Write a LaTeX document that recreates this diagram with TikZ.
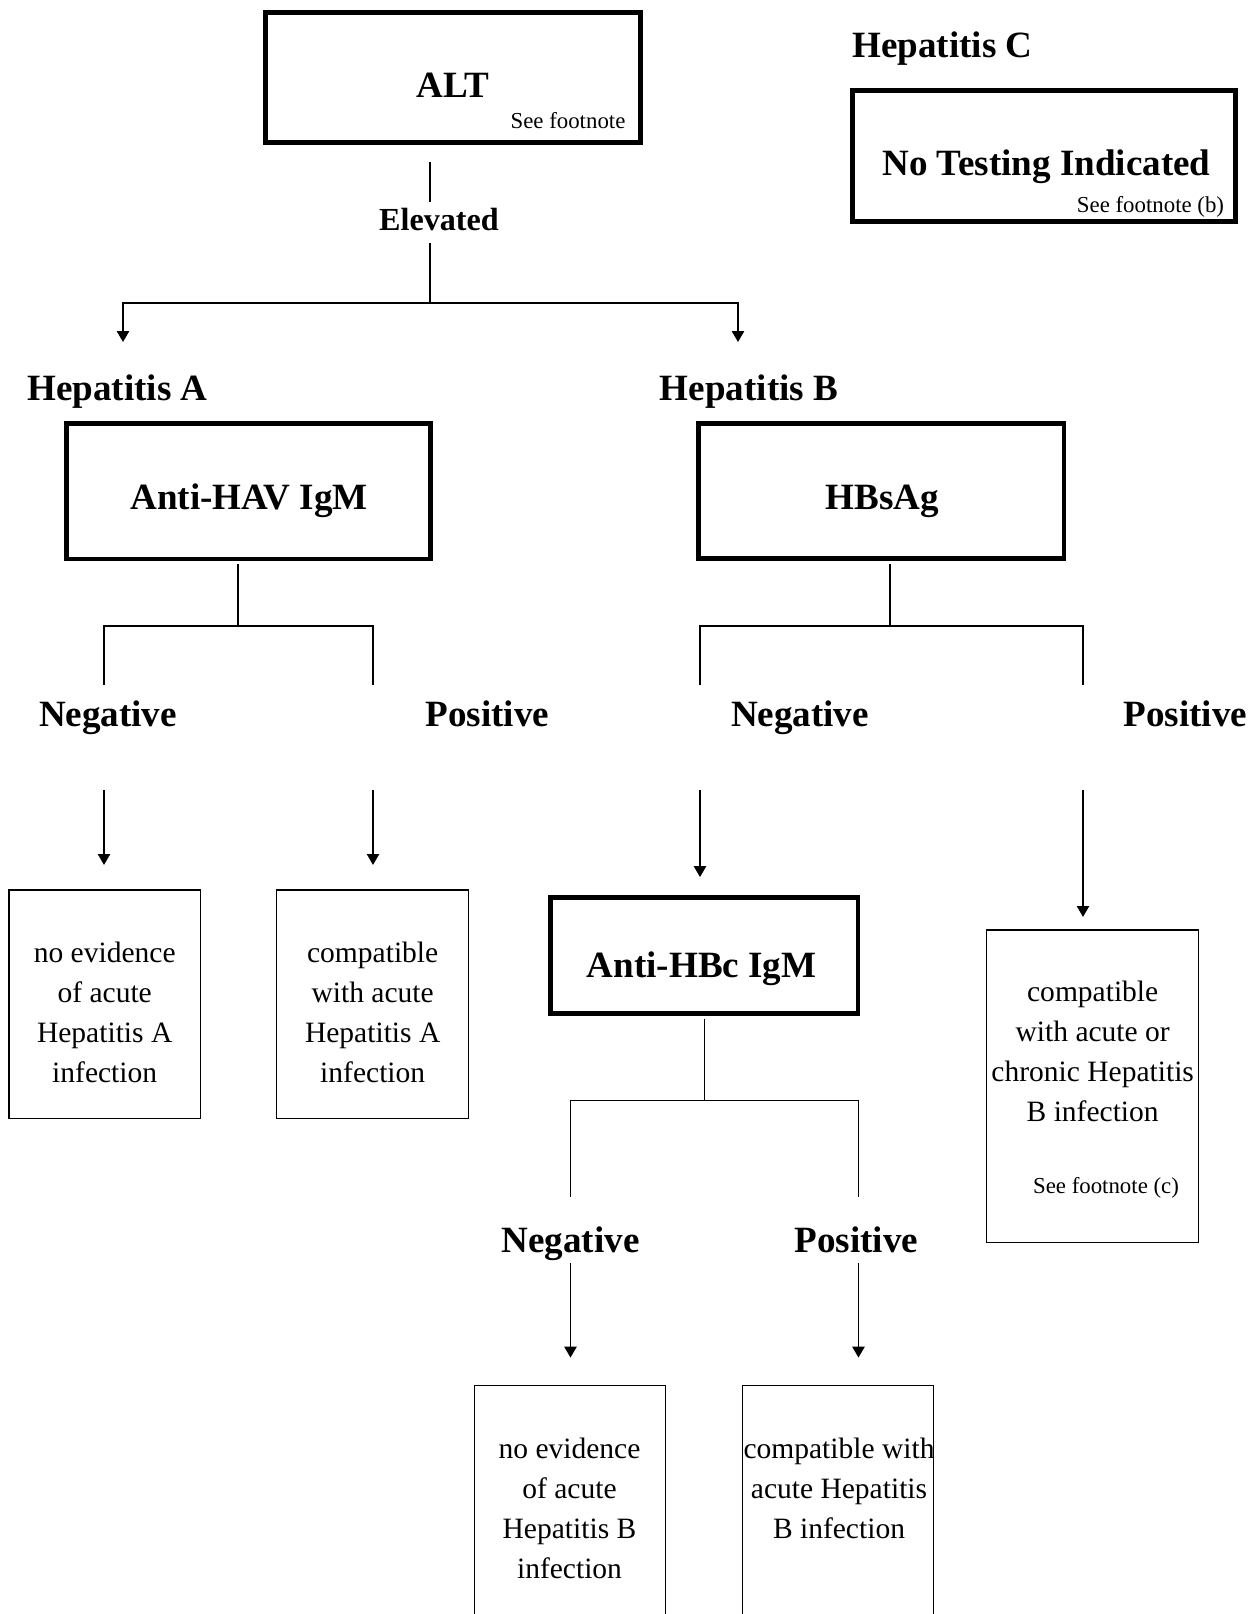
\documentclass[tikz,border=0pt]{standalone}
\usepackage{fontspec}
\setmainfont{Liberation Serif}
\usetikzlibrary{arrows.meta}

\begin{document}
\begin{tikzpicture}[x=0.02cm, y=-0.02cm,
    testbox/.style={draw, line width=2.8pt, inner sep=0pt},
    resbox/.style={draw, line width=0.75pt, inner sep=0pt, minimum width=3.83cm},
    heading/.style={inner sep=0pt, anchor=base, font=\fontsize{21.1}{25}\selectfont\bfseries},
    result/.style={heading, text height=14.8pt, text depth=5.3pt},
    elevlbl/.style={inner sep=0pt, anchor=base, text height=12.8pt, text depth=4.6pt, font=\fontsize{18.3}{22}\selectfont\bfseries},
    restext/.style={inner sep=0pt, anchor=north, align=center, font=\fontsize{16.8}{22.7}\selectfont},
    note/.style={inner sep=0pt, anchor=base, font=\fontsize{13}{15}\selectfont},
    link/.style={line width=0.75pt},
    tip/.style={line width=0.75pt, -{Triangle[length=6.2pt, width=7pt]}}]
  \useasboundingbox (0,0) rectangle (1256,1614);
  \clip (0,0) rectangle (1256,1614);

  \node[testbox, minimum width=7.5cm, minimum height=2.6cm] (alt) at (453,77.5) {};
  \node[heading] (alttxt) at (453,97) {ALT};
  \node[note] (altnote) at (568,128) {See footnote};
  \node[elevlbl] (elev) at (439,230) {Elevated};

  \node[heading] (hepc) at (942.5,57) {Hepatitis C};
  \node[testbox, minimum width=7.66cm, minimum height=2.62cm] (nti) at (1044,156) {};
  \node[heading] (ntitxt) at (1046.5,175) {No Testing Indicated};
  \node[note] (ntinote) at (1150.5,212) {See footnote (b)};

  \node[heading] (hepa) at (117.5,400.7) {Hepatitis A};
  \node[heading] (hepb) at (749,400.7) {Hepatitis B};
  \node[testbox, minimum width=7.28cm, minimum height=2.71cm] (hav) at (248.5,491.25) {};
  \node[heading] (havtxt) at (249,509) {Anti-HAV IgM};
  \node[testbox, minimum width=7.31cm, minimum height=2.7cm] (hbs) at (881.25,491) {};
  \node[heading] (hbstxt) at (882.5,509) {HBsAg};

  \node[result] (havneglbl) at (108,726.5) {Negative};
  \node[result] (havposlbl) at (487.5,726.5) {Positive};
  \node[result] (hbsneglbl) at (800,726.5) {Negative};
  \node[result] (hbsposlbl) at (1185.5,726.5) {Positive};

  \node[resbox, minimum height=4.57cm] (havneg) at (104.65,1004.3) {};
  \node[restext] (havnegtxt) at (104.7,934.7) {\strut no evidence\\of acute\\Hepatitis A\\infection};
  \node[resbox, minimum height=4.57cm] (havpos) at (372.5,1004.3) {};
  \node[restext] (havpostxt) at (372.7,934.7) {\strut compatible\\with acute\\Hepatitis A\\infection};

  \node[testbox, minimum width=6.15cm, minimum height=2.32cm] (hbc) at (704.25,955.5) {};
  \node[heading] (hbctxt) at (701.7,977) {Anti-HBc IgM};

  \node[resbox, minimum width=4.23cm, minimum height=6.25cm] (hbvpos) at (1092.5,1086.3) {};
  \node[restext] (hbvpostxt) at (1092.7,973.7) {\strut compatible\\with acute or\\chronic Hepatitis\\B infection};
  \node[note] (hbvnote) at (1106,1193) {See footnote (c)};

  \node[result] (hbcneglbl) at (570.5,1252.7) {Negative};
  \node[result] (hbcposlbl) at (856.5,1252.7) {Positive};

  \node[resbox, minimum width=3.81cm, minimum height=8cm] (hbcneg) at (570,1585.7) {};
  \node[restext] (hbcnegtxt) at (569.5,1430.3) {\strut no evidence\\of acute\\Hepatitis B\\infection};
  \node[resbox, minimum width=3.81cm, minimum height=8cm] (hbcpos) at (838,1585.7) {};
  \node[restext] (hbcpostxt) at (839,1430) {\strut compatible with\\acute Hepatitis\\B infection};

  \coordinate (altsplit) at (430,303);
  \coordinate (hepaend) at (123,342);
  \coordinate (hepbend) at (738,342);
  \coordinate (havsplit) at (238,626);
  \coordinate (havL) at (104,626);
  \coordinate (havR) at (373,626);
  \coordinate (hbssplit) at (890,626);
  \coordinate (hbsL) at (700,626);
  \coordinate (hbsR) at (1083,626);
  \coordinate (hbcsplit) at (704.3,1100.7);
  \coordinate (hbcL) at (570.5,1100.7);
  \coordinate (hbcR) at (858.5,1100.7);

  \draw[link, shorten <=0.34cm, shorten >=0.11cm] (alt.south -| altsplit) -- (elev.north -| altsplit);
  \draw[link, shorten <=0.1cm] (elev.south -| altsplit) -- (altsplit);
  \draw[tip] (altsplit) -| (hepaend);
  \draw[tip] (altsplit) -| (hepbend);

  \draw[link, shorten <=0.05cm] (hav.south -| havsplit) -- (havsplit);
  \draw[link, shorten <=0.31cm, shorten >=0.31cm] (havneglbl.north -| havL) -- (havL) -- (havR) -- (havposlbl.north -| havR);
  \draw[tip, shorten <=1.08cm, shorten >=0.49cm] (havneglbl.south -| havL) -- (havneg.north -| havL);
  \draw[tip, shorten <=1.08cm, shorten >=0.49cm] (havposlbl.south -| havR) -- (havpos.north -| havR);

  \draw[link, shorten <=0.06cm] (hbs.south -| hbssplit) -- (hbssplit);
  \draw[link, shorten <=0.31cm, shorten >=0.31cm] (hbsneglbl.north -| hbsL) -- (hbsL) -- (hbsR) -- (hbsposlbl.north -| hbsR);
  \draw[tip, shorten <=1.08cm, shorten >=0.36cm] (hbsneglbl.south -| hbsL) -- (hbc.north -| hbsL);
  \draw[tip, shorten <=1.08cm, shorten >=0.25cm] (hbsposlbl.south -| hbsR) -- (hbvpos.north -| hbsR);

  \draw[link, shorten <=0.06cm] (hbc.south -| hbcsplit) -- (hbcsplit);
  \draw[link, shorten <=0.59cm, shorten >=0.59cm] (hbcneglbl.north -| hbcL) -- (hbcL) -- (hbcR) -- (hbcposlbl.north -| hbcR);
  \draw[tip, shorten <=0.02cm, shorten >=0.55cm] (hbcneglbl.south -| hbcL) -- (hbcneg.north -| hbcL);
  \draw[tip, shorten <=0.02cm, shorten >=0.55cm] (hbcposlbl.south -| hbcR) -- (hbcpos.north -| hbcR);
\end{tikzpicture}
\end{document}
